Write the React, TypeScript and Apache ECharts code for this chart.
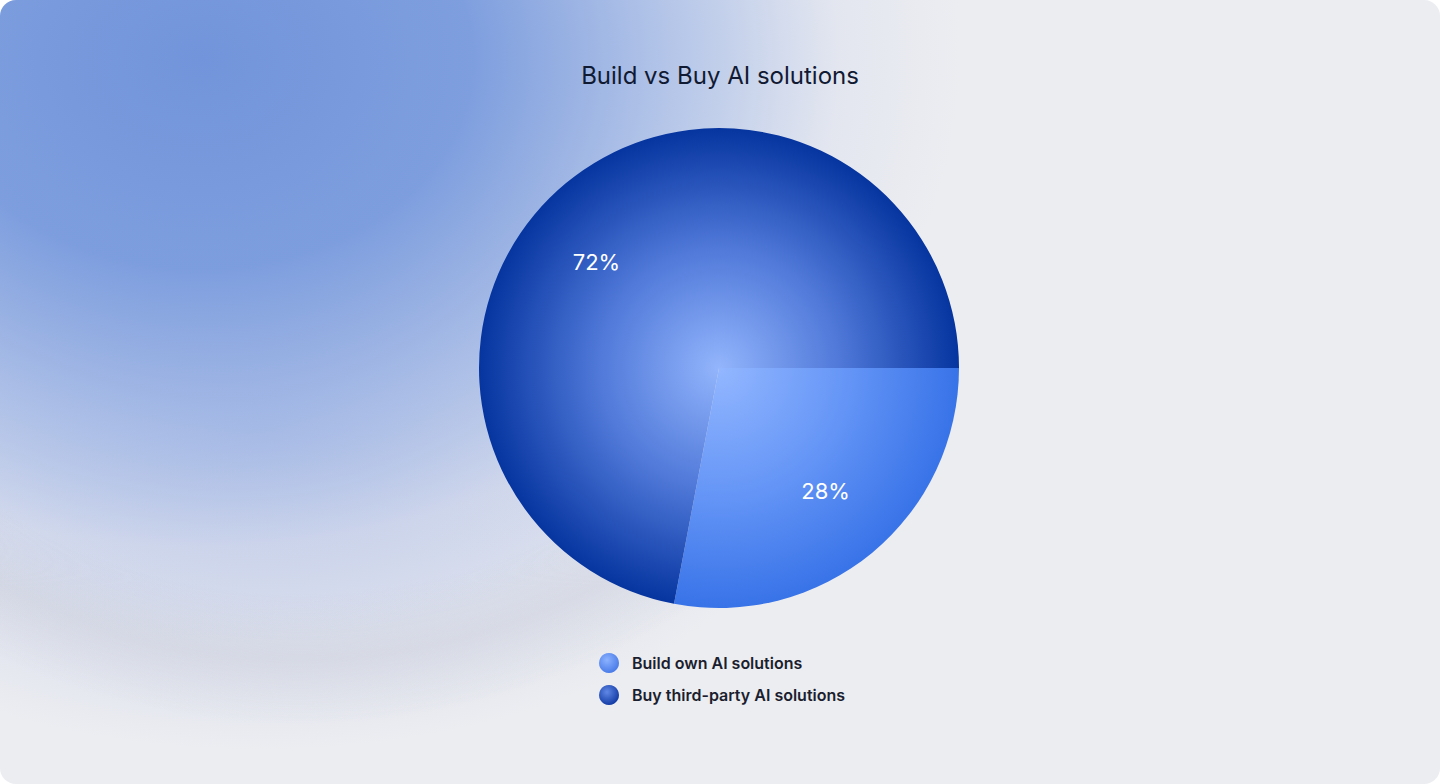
import { useEffect, useRef } from 'react'
import * as echarts from 'echarts'

const categories = ['Build own AI solutions', 'Buy third-party AI solutions']
const shares = [28, 72]
const chartTitle = 'Build vs Buy AI solutions'

const CX = 719
const CY = 368
const R = 240

const sliceFills = [
  {
    type: 'radial', x: CX, y: CY, r: R, global: true,
    colorStops: [
      { offset: 0, color: '#93b7ff' },
      { offset: 0.55, color: '#6394f6' },
      { offset: 1, color: '#3873e8' }
    ]
  },
  {
    type: 'radial', x: CX, y: CY, r: R, global: true,
    colorStops: [
      { offset: 0, color: '#93b5fc' },
      { offset: 0.5, color: '#5079d9' },
      { offset: 1, color: '#0635a0' }
    ]
  }
]

const legendFills = [
  {
    type: 'radial', x: 0.4, y: 0.35, r: 0.65,
    colorStops: [{ offset: 0, color: '#8cb2ff' }, { offset: 1, color: '#4a7ce8' }]
  },
  {
    type: 'radial', x: 0.4, y: 0.35, r: 0.65,
    colorStops: [{ offset: 0, color: '#5f88e6' }, { offset: 1, color: '#143ca6' }]
  }
]

// nudges for the percent labels, off their mid-angle spot
const labelShift = [[2, -3], [-18, 20]]

export default function App() {
  const chartRef = useRef<HTMLDivElement | null>(null)

  useEffect(() => {
    document.body.style.margin = '0'
    if (!chartRef.current) return
    const chart = echarts.init(chartRef.current, undefined, { renderer: 'svg' })

    chart.setOption({
      animation: false,
      backgroundColor: 'transparent',
      title: {
        text: chartTitle,
        left: 'center',
        top: 58,
        textStyle: { fontFamily: 'Inter', fontSize: 24, fontWeight: 'normal', color: '#111a33' }
      },
      legend: {
        orient: 'vertical',
        left: 594,
        top: 648,
        itemWidth: 20,
        itemHeight: 20,
        itemGap: 12,
        icon: 'circle',
        textStyle: { fontFamily: 'Inter', fontSize: 16, fontWeight: 600, color: '#1b1e2e', padding: [0, 0, 0, 8] },
        data: categories.map((name, i) => ({ name, itemStyle: { color: legendFills[i] } }))
      },
      series: [
        {
          type: 'pie',
          center: [CX, CY],
          radius: [0, R],
          startAngle: 0,
          clockwise: true,
          silent: true,
          label: { show: false },
          labelLine: { show: false },
          data: categories.map((name, i) => ({
            name,
            value: shares[i],
            itemStyle: { color: sliceFills[i] }
          }))
        },
        {
          type: 'pie',
          center: [CX, CY],
          radius: [82, R],
          startAngle: 0,
          clockwise: true,
          silent: true,
          itemStyle: { color: 'transparent' },
          label: {
            show: true,
            position: 'inside',
            formatter: '{c}%',
            fontFamily: 'Inter',
            fontSize: 22,
            color: '#ffffff'
          },
          labelLine: { show: false },
          labelLayout: (p: { dataIndex: number }) => ({
            dx: labelShift[p.dataIndex][0],
            dy: labelShift[p.dataIndex][1]
          }),
          data: categories.map((name, i) => ({ name, value: shares[i] }))
        }
      ]
    })

    return () => chart.dispose()
  }, [])

  return (
    <div style={{ width: 1440, height: 784, background: '#ffffff' }}>
      <div
        style={{
          position: 'relative',
          width: 1440,
          height: 784,
          borderRadius: 16,
          overflow: 'hidden',
          background: [
            'radial-gradient(ellipse 760px 580px at 200px 60px, rgba(114,148,218,1) 0%, rgba(120,154,221,0.95) 36%, rgba(150,176,228,0.6) 64%, rgba(200,210,235,0.25) 84%, rgba(236,238,243,0) 100%)',
            'radial-gradient(ellipse 560px 320px at 260px 430px, rgba(170,186,228,0.75) 0%, rgba(200,210,235,0) 100%)',
            '#ecedf1'
          ].join(', ')
        }}
      >
        <div
          style={{
            position: 'absolute',
            inset: 0,
            background: 'radial-gradient(ellipse 700px 650px at 300px 100px, rgba(0,0,0,0) 76%, rgba(200,202,212,0.35) 86%, rgba(0,0,0,0) 96%)',
            WebkitMaskImage: 'linear-gradient(to top, #000 0%, #000 25%, transparent 55%)',
            maskImage: 'linear-gradient(to top, #000 0%, #000 25%, transparent 55%)'
          }}
        />
        <div ref={chartRef} style={{ position: 'absolute', left: 0, top: 0, width: 1440, height: 784 }} />
      </div>
    </div>
  )
}
